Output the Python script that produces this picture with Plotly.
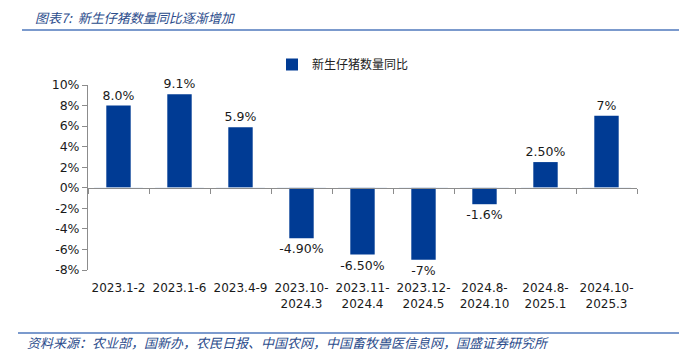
import plotly.graph_objects as go

categories = ["2023.1-2", "2023.1-6", "2023.4-9", "2023.10-<br>2024.3", "2023.11-<br>2024.4",
              "2023.12-<br>2024.5", "2024.8-<br>2024.10", "2024.8-<br>2025.1", "2024.10-<br>2025.3"]
values = [8.0, 9.1, 5.9, -4.9, -6.5, -7.0, -1.6, 2.5, 7.0]
value_labels = ["8.0%", "9.1%", "5.9%", "-4.90%", "-6.50%", "-7%", "-1.6%", "2.50%", "7%"]
y_ticks = [-8, -6, -4, -2, 0, 2, 4, 6, 8, 10]
y_tick_labels = [f"{v}%" for v in y_ticks]
series_name = "新生仔猪数量同比"
title_text = "图表7:  新生仔猪数量同比逐渐增加"
source_text = "资料来源：农业部，国新办，农民日报、中国农网，中国畜牧兽医信息网，国盛证券研究所"

BAR = "#003B94"
AX = "#8C8C8C"
TXT_FONT = "DejaVu Sans"

fig = go.Figure()
fig.add_trace(go.Bar(
    x=categories, y=values, name=series_name,
    marker=dict(color=BAR, line=dict(width=0)),
    width=0.4,
    text=value_labels, textposition="outside", cliponaxis=False, constraintext="none",
    textfont=dict(family=TXT_FONT, size=12.5, color="#1a1a1a"),
))
# invisible trace on overlay axis to draw zero-line ticks between categories
fig.add_trace(go.Bar(x=categories, y=[0] * len(categories), xaxis="x2",
                     showlegend=False, hoverinfo="skip", marker=dict(color="rgba(0,0,0,0)")))

fig.update_layout(
    width=679, height=352,
    margin=dict(l=88, r=42, t=85, b=82),
    plot_bgcolor="white", paper_bgcolor="white",
    showlegend=True,
    uniformtext=dict(mode=False),
    legend=dict(x=(272 - 88) / 549, y=(352 - 50 - 82) / 185, xanchor="left", yanchor="top",
                orientation="h", bgcolor="rgba(0,0,0,0)", itemwidth=30,
                font=dict(family="Noto Sans CJK SC", size=12, color="#222")),
    xaxis=dict(type="category", showline=False, ticks="", showgrid=False,
               tickfont=dict(family=TXT_FONT, size=12, color="#1a1a1a"), ticklabelstandoff=9),
    xaxis2=dict(type="category", overlaying="x", anchor="free", position=(0 - (-8)) / 18,
                showline=True, linecolor=AX, linewidth=1, ticks="outside", tickson="boundaries",
                ticklen=5, tickcolor=AX, showticklabels=False, showgrid=False, side="bottom"),
    yaxis=dict(range=[-8, 10], tickvals=y_ticks, ticktext=y_tick_labels, showgrid=False,
               showline=True, linecolor=AX, linewidth=1, ticks="outside", ticklen=5, tickcolor=AX,
               zeroline=False, tickfont=dict(family=TXT_FONT, size=12.5, color="#1a1a1a")),
)

fig.add_annotation(text="<i>" + title_text + "</i>", xref="paper", yref="paper",
                   x=(33 - 88) / 549, y=(352 - 82 - 17) / 185, xanchor="left", yanchor="middle",
                   showarrow=False, font=dict(family="Noto Sans CJK SC", size=13, color="#2B4C8C"))
fig.add_annotation(text="<i>" + source_text + "</i>", xref="paper", yref="paper",
                   x=(25 - 88) / 549, y=(352 - 82 - 342) / 185, xanchor="left", yanchor="middle",
                   showarrow=False, font=dict(family="Noto Sans CJK SC", size=13, color="#2B4C8C"))
fig.add_shape(type="line", xref="paper", yref="paper",
              x0=(22 - 88) / 549, x1=(679 - 88) / 549, y0=(352 - 82 - 30) / 185, y1=(352 - 82 - 30) / 185,
              line=dict(color="#4F78BD", width=1.5))
fig.add_shape(type="line", xref="paper", yref="paper",
              x0=(18 - 88) / 549, x1=(679 - 88) / 549, y0=(352 - 82 - 333) / 185, y1=(352 - 82 - 333) / 185,
              line=dict(color="#4F78BD", width=1.5))

fig.write_html("out.html")
